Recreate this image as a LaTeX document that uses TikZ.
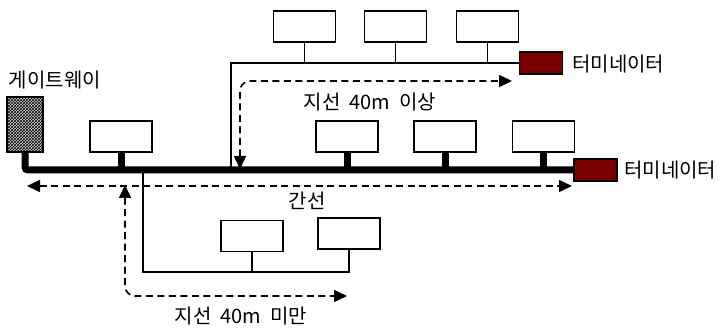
\documentclass[tikz,border=0pt]{standalone}
\usepackage{fontspec}
\usepackage{tikz}
\usetikzlibrary{arrows.meta,patterns}
\usepackage{xcolor}
\newfontfamily\kr{Noto Sans CJK KR}
\definecolor{termred}{RGB}{122,0,0}
\newcommand{\gap}{\hspace{0.45em}}

\begin{document}
\begin{tikzpicture}[x=1pt, y=-1pt,
  dev/.style={draw, line width=1.4pt, minimum width=62pt, minimum height=31pt, inner sep=0pt},
  term/.style={draw, fill=termred, line width=1.4pt, minimum width=43pt, minimum height=22pt, inner sep=0pt},
  bus/.style={line width=7pt},
  drop/.style={line width=1.4pt},
  span/.style={line width=1.6pt, dash pattern=on 7pt off 4.5pt},
  lbl/.style={font=\kr\fontsize{20}{22}\selectfont, inner sep=0pt},
  >={Triangle[length=13pt,width=12pt]}]
\useasboundingbox (0,0) rectangle (725,328);

% Gateway and terminators
\node[draw, line width=1.4pt, fill=gray!35, postaction={pattern=crosshatch}, minimum width=36pt, minimum height=55pt, inner sep=0pt] (gw) at (25,124.5) {};
\node[lbl] (gwlbl) at (55,80) {게이트웨이};
\node[term] (termL) at (595.5,170) {};
\node[lbl, anchor=west] (termLlbl) at (624,170) {터미네이터};
\node[term] (termU) at (541,63) {};
\node[lbl, anchor=west] (termUlbl) at (572,64) {터미네이터};

% Devices on the trunk
\node[dev] (d1) at (121,136.5) {};
\node[dev] (dA) at (347,136.5) {};
\node[dev] (dB) at (445,136.5) {};
\node[dev] (dC) at (543.5,136.5) {};

% Devices on the upper branch
\node[dev] (u1) at (304.5,26.5) {};
\node[dev] (u2) at (395.5,26.5) {};
\node[dev] (u3) at (487.5,26.5) {};

% Devices on the lower branch
\node[dev] (l1) at (252,236) {};
\node[dev] (l2) at (349,233.5) {};

% Trunk
\draw[bus, rounded corners=3pt] (gw.south) |- (termL.west);
\foreach \d in {d1,dA,dB,dC}
  \draw[bus] (\d.south) -- (\d.south |- termL.west);

% Upper branch
\coordinate (upTap) at (231,170);
\draw[drop] (upTap) |- (termU.west);
\foreach \d in {u1,u2,u3}
  \draw[drop] (\d.south) -- (\d.south |- termU.west);

% Lower branch
\coordinate (lowTap) at (143,170);
\coordinate (lowEnd) at (349,272);
\draw[drop] (lowTap) |- (lowEnd) -- (l2.south);
\draw[drop] (l1.south) -- (l1.south |- lowEnd);

% Distances
\coordinate (trunkL) at (27,186);
\coordinate (trunkR) at (572,186);
\draw[span, <->] (trunkL) -- (trunkR);
\node[lbl] (trunklbl) at (307,201) {간선};

\coordinate (upS) at (240,169);
\coordinate (upE) at (512,81);
\draw[span, <->, rounded corners=10pt] (upS) |- (upE);
\node[lbl] (uplbl) at (370,102) {지선\gap 40m\gap 이상};

\coordinate (lowS) at (125,185);
\coordinate (lowE) at (347,296);
\draw[span, <->, rounded corners=10pt] (lowS) |- (lowE);
\node[lbl] (lowlbl) at (241,316) {지선\gap 40m\gap 미만};
\end{tikzpicture}
\end{document}
